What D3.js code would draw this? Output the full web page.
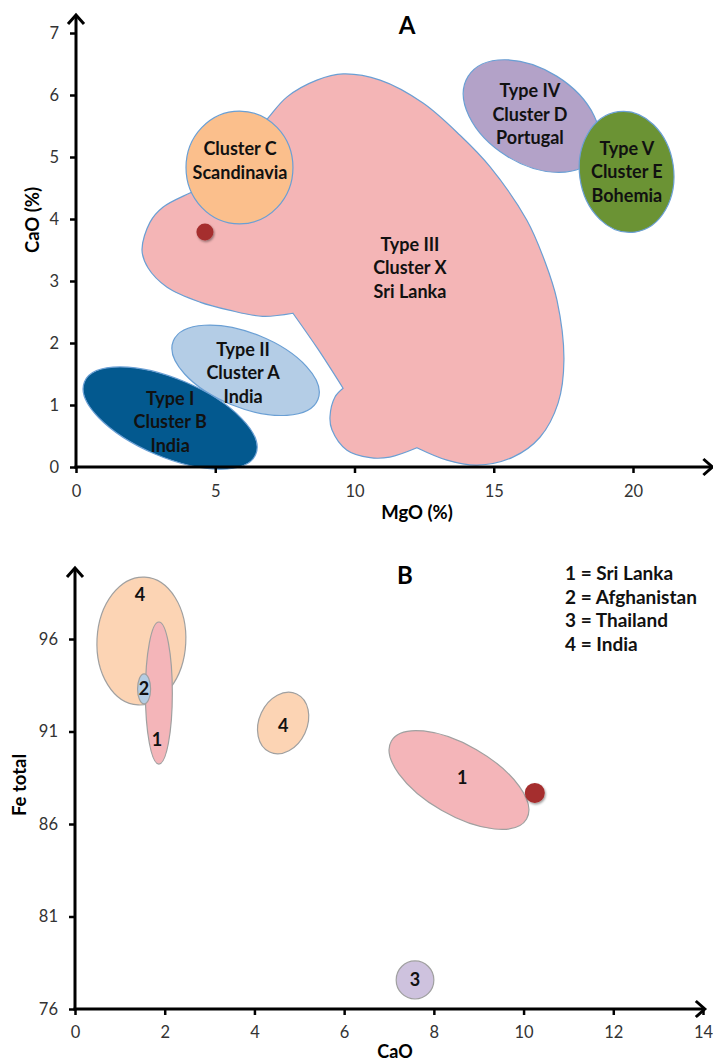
<!DOCTYPE html>
<html><head><meta charset="utf-8">
<script src="https://cdn.jsdelivr.net/npm/d3@7"></script>
<style>body{margin:0;background:#fff} svg{display:block}</style>
</head><body>
<svg id="c" width="713" height="1064"></svg>
<script>
// ================= Panel A data =================
const xTicksA = [0, 5, 10, 15, 20];
const yTicksA = [0, 1, 2, 3, 4, 5, 6, 7];
const axisEndA = [22.85, 7.29];
const clusterLabelsA = [
  ["Type II", "Cluster A", "India"],
  ["Type I", "Cluster B", "India"],
  ["Cluster C", "Scandinavia"],
  ["Type IV", "Cluster D", "Portugal"],
  ["Type V", "Cluster E", "Bohemia"]
];
const clusterCentersA = [[6.09, 1.56], [3.38, 0.79], [5.87, 4.83], [16.36, 5.66], [19.77, 4.76]];
const clusterRadiiA = [[2.80, 0.60], [3.34, 0.63], [1.92, 0.91], [2.69, 0.76], [1.69, 0.98]];
const clusterAnglesA = [22, 23, 0, 32, -8];
const clusterLabelPosA = [[6.00, 1.52], [3.38, 0.73], [5.89, 4.94], [16.30, 5.69], [19.78, 4.76]];
// Type III (Cluster X, Sri Lanka) outline, three smooth segments joined at cusps
const typeIIIseg1 = [[7.79,2.48],[6.70,2.43],[5.50,2.53],[4.45,2.66],[3.27,2.90],[2.59,3.21],[2.37,3.50],[2.66,3.95],[3.12,4.19],[4.09,4.42],[4.99,4.60],[6.25,5.27],[6.90,5.63],[7.58,5.97],[8.65,6.24],[9.59,6.34],[10.92,6.24],[12.46,5.87],[13.79,5.35],[14.87,4.84],[16.19,3.98],[16.84,3.31],[17.27,2.69],[17.52,1.73],[17.31,1.03],[16.66,0.48],[15.69,0.16],[14.40,0.03],[13.32,0.11],[12.24,0.31]];
const typeIIIseg2 = [[12.24,0.31],[11.27,0.16],[10.56,0.15],[9.73,0.27],[9.19,0.60],[9.12,0.81],[9.30,1.13],[9.59,1.27]];
const typeIIIseg3 = [[9.59,1.27],[8.69,1.90],[7.79,2.48]];
const typeIIILabel = ["Type III", "Cluster X", "Sri Lanka"];
const typeIIILabelPos = [11.99, 3.21];
const sampleA = [4.63, 3.79];

// ================= Panel B data =================
const xTicksB = [0, 2, 4, 6, 8, 10, 12, 14];
const yTicksB = [76, 81, 86, 91, 96];
const axisEndB = [14.04, 99.84];
const groupLabelsB = ["4", "1", "2", "4", "1", "3"];
const groupCentersB = [[1.48, 95.89], [1.87, 93.08], [1.54, 93.30], [4.64, 91.46], [8.56, 88.38], [7.58, 77.57]];
const groupRadiiB = [[0.99, 3.46], [0.30, 3.84], [0.145, 0.81], [0.535, 1.73], [1.74, 1.89], [0.42, 1.03]];
const groupAnglesB = [3, 0, 0, 25, 30, 0];
const groupLabelPosB = [[1.45, 98.38], [1.83, 90.54], [1.54, 93.30], [4.64, 91.35], [8.63, 88.49], [7.58, 77.57]];
const legendB = ["1 = Sri Lanka", "2 = Afghanistan", "3 = Thailand", "4 = India"];
const sampleB = [10.25, 87.68];

// ================= styles =================
const fillsA = ["#b4cde6", "#03598f", "#fbbf8c", "#b3a2c8", "#6b9334"];
const strokeA = "#6a9fd4";
const fillIII = "#f4b5b6";
const fillsB = ["#fcd4b4", "#f4b5b9", "#b4cde4", "#fcd4b4", "#f4b5b9", "#cec2de"];
const strokeB = "#a0a0a0";
const FONT = "Lato, 'Open Sans', sans-serif";

const svg = d3.select("#c");
const defs = svg.append("defs");
const flt = defs.append("filter").attr("id", "sh").attr("x", "-60%").attr("y", "-60%").attr("width", "220%").attr("height", "220%");
flt.append("feDropShadow").attr("dx", 1).attr("dy", 1.5).attr("stdDeviation", 1.2).attr("flood-color", "#000").attr("flood-opacity", 0.4);

const xA = d3.scaleLinear().domain([0, 20]).range([76, 633]);
const yA = d3.scaleLinear().domain([0, 7]).range([467, 33]);
const xB = d3.scaleLinear().domain([0, 14]).range([75, 703]);
const yB = d3.scaleLinear().domain([76, 96]).range([1009, 639]);

function ellipse(g, x, y, c, r, rot) {
  return g.append("ellipse")
    .attr("transform", `translate(${x(c[0])},${y(c[1])}) rotate(${rot})`)
    .attr("rx", x(c[0] + r[0]) - x(c[0]))
    .attr("ry", y(c[1]) - y(c[1] + r[1]));
}

function multiLabel(g, x, y, lines, pos, size) {
  const n = lines.length, lh = 23.5;
  const t = g.append("text").attr("text-anchor", "middle")
    .attr("font-family", FONT).attr("font-weight", "bold").attr("font-size", size).attr("fill", "#111");
  lines.forEach((s, i) => {
    t.append("tspan").attr("x", x(pos[0]))
      .attr("y", y(pos[1]) + (i - (n - 1) / 2) * lh)
      .attr("dy", "0.36em").text(s);
  });
}

function drawAxes(g, x, y, xt, yt, end, xpad, ypad) {
  const ax = g.append("g").attr("transform", `translate(0,${y.range()[0]})`)
    .call(d3.axisBottom(x).tickValues(xt).tickSize(6).tickPadding(xpad).tickFormat(d3.format("d")));
  const ay = g.append("g").attr("transform", `translate(${x.range()[0]},0)`)
    .call(d3.axisLeft(y).tickValues(yt).tickSize(6).tickPadding(ypad).tickFormat(d3.format("d")));
  [ax, ay].forEach(a => {
    a.select(".domain").remove();
    a.selectAll(".tick line").attr("stroke", "#000").attr("stroke-width", 2.5);
    a.selectAll(".tick text").attr("font-family", FONT).attr("font-size", 16.5).attr("fill", "#333");
  });
  const x0 = x(x.domain()[0]), y0 = y(y.domain()[0]);
  const xe = x(end[0]), ye = y(end[1]);
  g.append("line").attr("x1", x0 - 1.5).attr("x2", xe - 1).attr("y1", y0).attr("y2", y0)
    .attr("stroke", "#000").attr("stroke-width", 3);
  g.append("line").attr("x1", x0).attr("x2", x0).attr("y1", y0 + 1.5).attr("y2", ye + 1)
    .attr("stroke", "#000").attr("stroke-width", 3);
  g.append("path").attr("d", `M${xe - 9},${y0 - 8}L${xe},${y0}L${xe - 9},${y0 + 8}`)
    .attr("fill", "none").attr("stroke", "#000").attr("stroke-width", 3).attr("stroke-linejoin", "miter");
  g.append("path").attr("d", `M${x0 - 8},${ye + 9}L${x0},${ye}L${x0 + 8},${ye + 9}`)
    .attr("fill", "none").attr("stroke", "#000").attr("stroke-width", 3).attr("stroke-linejoin", "miter");
}

// ================= Panel A =================
const gA = svg.append("g");
const lineA = d3.line().x(d => xA(d[0])).y(d => yA(d[1])).curve(d3.curveCatmullRom.alpha(0.5));
const blobPath = [typeIIIseg1, typeIIIseg2, typeIIIseg3]
  .map((s, i) => { const p = lineA(s); return i === 0 ? p : "L" + p.slice(1); }).join("") + "Z";
gA.append("path").attr("d", blobPath).attr("fill", fillIII).attr("stroke", strokeA).attr("stroke-width", 1.2);

clusterCentersA.forEach((c, i) => {
  ellipse(gA, xA, yA, c, clusterRadiiA[i], clusterAnglesA[i])
    .attr("fill", fillsA[i]).attr("stroke", strokeA).attr("stroke-width", 1.2);
});
gA.append("circle").attr("cx", xA(sampleA[0])).attr("cy", yA(sampleA[1])).attr("r", 8.5)
  .attr("fill", "#a52d2d").attr("filter", "url(#sh)");

clusterLabelsA.forEach((l, i) => multiLabel(gA, xA, yA, l, clusterLabelPosA[i], 18));
multiLabel(gA, xA, yA, typeIIILabel, typeIIILabelPos, 18);

drawAxes(gA, xA, yA, xTicksA, yTicksA, axisEndA, 12, 11);

gA.append("text").attr("x", 417).attr("y", 519).attr("text-anchor", "middle")
  .attr("font-family", FONT).attr("font-weight", "bold").attr("font-size", 18.5).text("MgO (%)");
gA.append("text").attr("transform", "translate(39,220) rotate(-90)").attr("text-anchor", "middle")
  .attr("font-family", FONT).attr("font-weight", "bold").attr("font-size", 18.5).text("CaO (%)");
gA.append("text").attr("x", 407).attr("y", 34).attr("text-anchor", "middle")
  .attr("font-family", FONT).attr("font-weight", "bold").attr("font-size", 24).text("A");

// ================= Panel B =================
const gB = svg.append("g");
groupCentersB.forEach((c, i) => {
  ellipse(gB, xB, yB, c, groupRadiiB[i], groupAnglesB[i])
    .attr("fill", fillsB[i]).attr("stroke", strokeB).attr("stroke-width", 1.2);
});
gB.append("circle").attr("cx", xB(sampleB[0])).attr("cy", yB(sampleB[1])).attr("r", 10)
  .attr("fill", "#a52d2d").attr("filter", "url(#sh)");
groupLabelsB.forEach((l, i) => multiLabel(gB, xB, yB, [l], groupLabelPosB[i], 18));

drawAxes(gB, xB, yB, xTicksB, yTicksB, axisEndB, 11, 11);

gB.append("text").attr("x", 395).attr("y", 1058).attr("text-anchor", "middle")
  .attr("font-family", FONT).attr("font-weight", "bold").attr("font-size", 18).text("CaO");
gB.append("text").attr("transform", "translate(26,785) rotate(-90)").attr("text-anchor", "middle")
  .attr("font-family", FONT).attr("font-weight", "bold").attr("font-size", 18.5).text("Fe total");
gB.append("text").attr("x", 405).attr("y", 584).attr("text-anchor", "middle")
  .attr("font-family", FONT).attr("font-weight", "bold").attr("font-size", 24).text("B");
gB.append("g").selectAll("text").data(legendB).join("text")
  .attr("x", 565).attr("y", (d, i) => 580 + i * 23.5)
  .attr("font-family", FONT).attr("font-weight", "bold").attr("font-size", 19).attr("fill", "#111")
  .text(d => d);
</script>
</body></html>
